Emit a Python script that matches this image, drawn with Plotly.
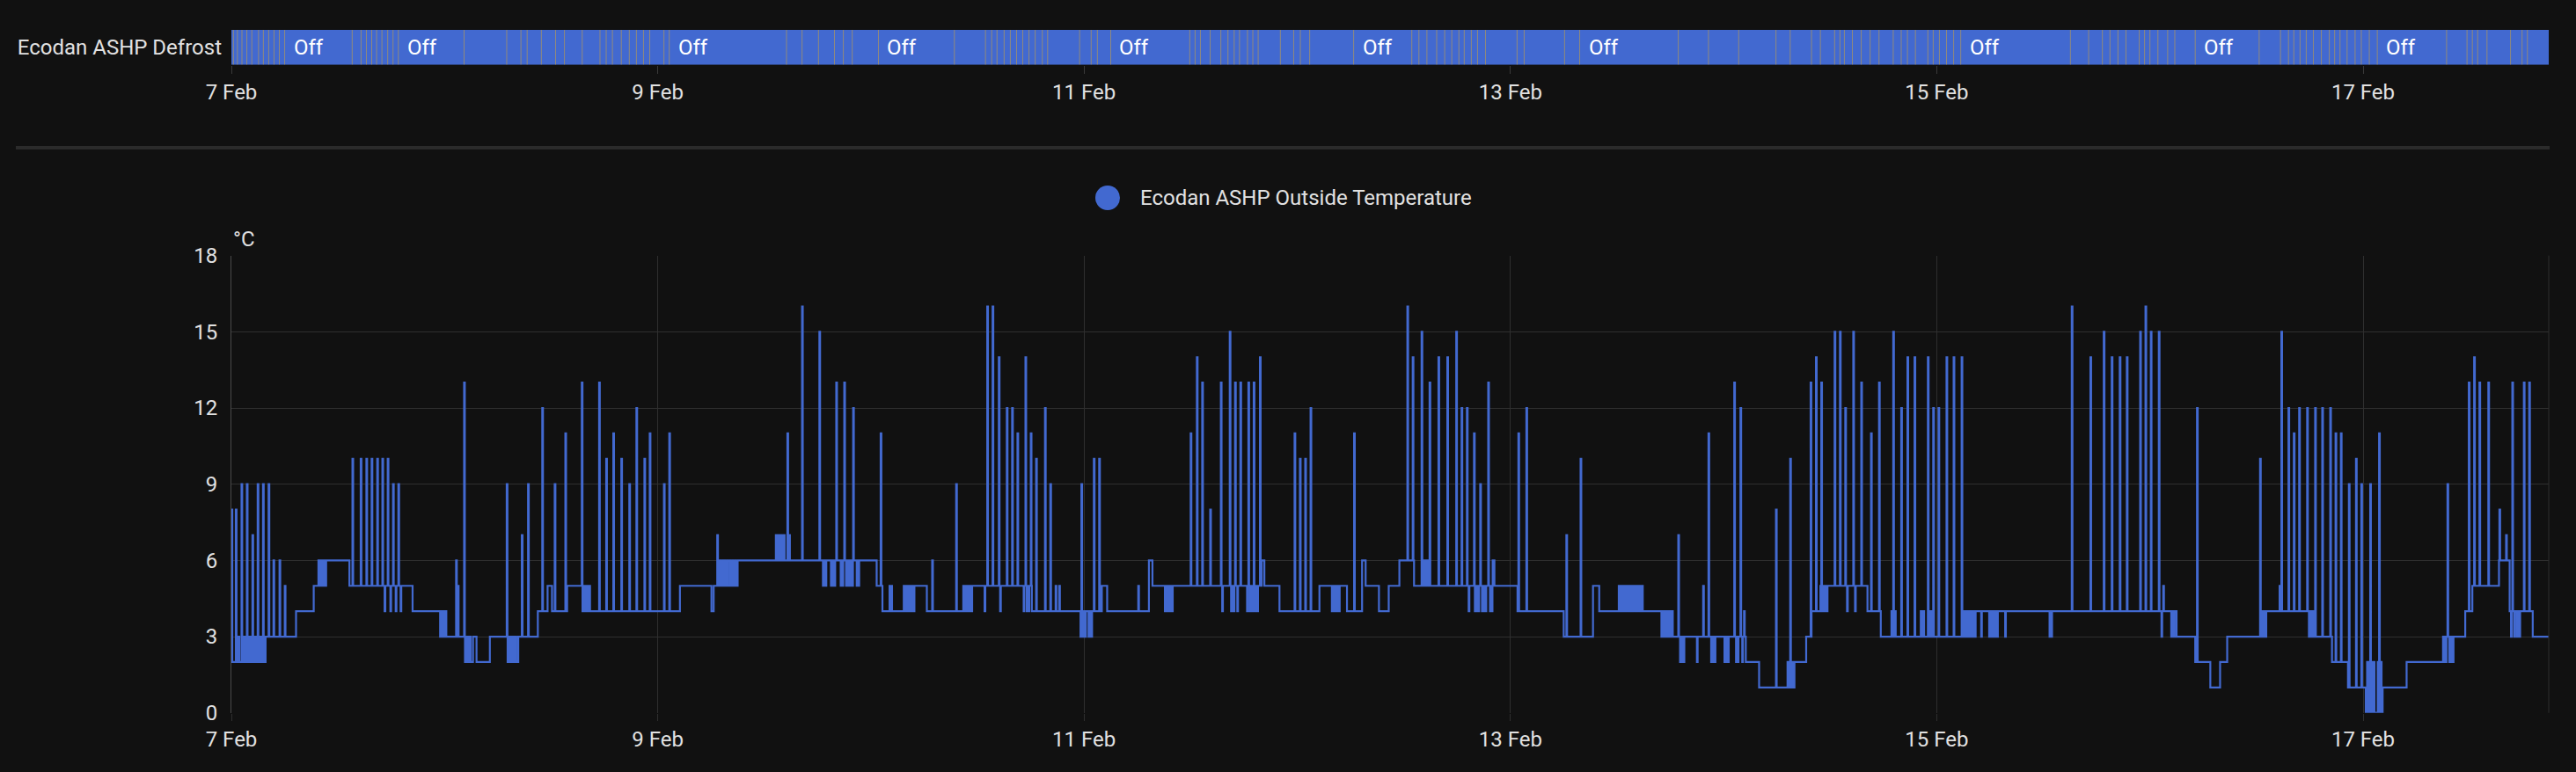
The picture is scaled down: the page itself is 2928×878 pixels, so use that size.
import plotly.graph_objects as go
from datetime import datetime, timedelta

# ---------------- data (hours since 7 Feb 00:00) ----------------
START = datetime(2025, 2, 7)
END_HOURS = 260.9

x_tick_labels = ["7 Feb", "9 Feb", "11 Feb", "13 Feb", "15 Feb", "17 Feb"]
y_ticks = [0, 3, 6, 9, 12, 15, 18]

# step baseline of outside temperature: change points and values
temp_base_hours = [0.0, 3.85, 7.28, 9.27, 10.67, 13.29, 20.4, 24.2, 26.3, 27.2, 27.6, 29.1, 31.1, 32.3,
                   34.5, 35.6, 36.1, 37.8, 39.5, 50.5, 54.05, 54.3, 57.0, 72.65, 73.3, 76.9, 78.3, 83.4,
                   90.2, 95.6, 96.2, 96.5, 96.9, 98.0, 98.6, 103.3, 103.7, 116.0, 116.3, 118.0, 122.5,
                   125.6, 127.3, 127.7, 129.2, 130.3, 131.5, 133.15, 134.1, 134.8, 142.0, 142.2, 144.8,
                   150.0, 153.3, 154.0, 156.2, 158.9, 161.0, 170.5, 172.0, 175.2, 177.3, 177.9, 179.7,
                   184.2, 185.7, 194.9, 219.0, 221.1, 222.8, 223.9, 224.7, 229.1, 233.9, 236.5, 238.3,
                   240.3, 242.2, 244.9, 249.0, 251.5, 252.3, 255.3, 256.5, 259.1]
temp_base_values = [2, 3, 4, 5, 6, 5, 4, 3, 2, 3, 2, 3, 2, 3,
                    4, 5, 4, 5, 4, 5, 4, 5, 6, 5, 4, 5, 4, 5,
                    4, 3, 4, 3, 4, 5, 4, 6, 5, 6, 5, 4, 5,
                    4, 6, 5, 4, 5, 6, 5, 6, 5, 6, 5, 4,
                    3, 5, 4, 5, 4, 3, 2, 1, 2, 3, 4, 5,
                    4, 3, 4, 3, 2, 1, 2, 3, 4, 3, 2, 1,
                    0, 1, 2, 3, 4, 5, 6, 4, 3]

# short readings (defrost spikes and quick toggles): time and value
temp_spike_hours = [
    0.02, 0.5, 1.14, 1.74, 2.37, 2.96, 3.56, 4.19, 4.74, 5.42, 6.01,
    0.8, 1.3, 1.45, 2.0, 2.15, 2.6, 2.75, 3.2, 3.4,
    9.8, 10.0, 10.2, 10.4, 10.55,
    13.63, 14.56, 15.2, 15.79, 16.42, 17.0, 17.6, 18.2, 18.8,
    17.25, 17.9, 18.5, 19.05,
    23.5, 23.7, 23.95,
    25.3, 25.5, 26.2,
    26.45, 26.65, 26.85,
    31.0, 31.3, 31.5, 31.8, 32.0,
    32.7, 33.4, 35.0, 36.4, 37.6, 39.45,
    39.7, 39.9, 40.1, 40.3,
    41.4, 42.2, 43.0, 43.9, 44.8, 45.6, 46.5, 47.1, 48.7, 49.3,
    54.7,
    55.0, 55.3, 55.5, 55.8, 56.1, 56.4, 56.7,
    61.3, 61.5, 61.7, 61.9, 62.2, 62.8,
    62.6, 64.25,
    66.2, 68.1, 69.0, 70.0,
    66.6, 66.9, 67.5, 67.7, 67.9, 68.6, 68.8, 69.2, 69.4, 69.6, 69.9, 70.4, 70.6,
    73.1,
    74.1, 74.3, 75.7, 75.9, 76.1, 76.3, 76.5, 76.7,
    78.9, 81.6,
    82.4, 82.6, 82.8, 83.0, 83.2,
    85.1, 85.7, 86.4, 87.3, 87.9, 88.5, 89.4, 90.0, 90.6, 91.6, 92.2,
    84.8, 86.55, 89.2, 89.55, 89.75, 90.12,
    92.8, 93.2,
    95.7, 95.8, 96.05, 96.7, 97.1, 97.7,
    102.1,
    105.1, 105.3, 105.5, 105.7, 105.9,
    108.0, 108.7, 109.3, 110.2, 111.4, 112.4, 113.0, 113.6, 114.5, 115.1, 115.8,
    111.55, 112.55, 112.85, 113.25, 114.35, 114.65, 114.85, 115.0, 115.3, 115.5,
    119.7, 120.3, 120.9, 121.5,
    123.9, 124.1, 124.3, 124.5, 124.7,
    126.4,
    132.4, 133.0, 134.0, 134.9, 135.9, 136.9, 137.9, 138.5, 139.1, 139.9, 140.6, 141.5,
    134.3, 134.5, 139.3,
    140.0, 140.2, 140.4, 140.8, 141.0, 141.2, 141.7, 141.9,
    144.9, 145.8,
    150.3, 151.9,
    156.4, 156.6, 156.8, 157.0, 157.3, 157.5, 157.7, 158.0, 158.2, 158.5, 158.7,
    161.2, 161.4, 161.6, 161.8, 162.0, 162.2,
    162.9,
    163.1, 163.3, 163.5, 165.0, 165.7, 166.3,
    166.6, 166.8, 167.0, 168.1, 168.3, 168.5,
    169.2, 169.4, 169.6, 169.9, 170.1, 170.3,
    173.9, 175.35, 175.5, 175.65, 175.9,
    177.8, 178.4, 179.0,
    178.9, 179.15, 179.3, 179.5,
    180.5, 181.1, 181.7, 182.6, 183.5, 184.6, 185.5,
    181.9, 182.8,
    186.9, 187.1, 187.3, 188.0, 188.7, 189.5, 190.2, 190.5, 191.0, 191.2, 191.4, 191.6, 192.2, 193.1, 193.9, 194.8,
    195.1, 195.3, 195.6, 195.8, 196.1, 196.3, 197.0, 197.9, 198.1, 198.3, 198.5, 198.8, 199.7,
    204.7, 204.9,
    207.2, 209.3, 210.8, 211.7, 212.6, 213.4, 214.9, 215.5, 216.1, 217.0, 217.5,
    217.3, 218.4, 218.7,
    221.3,
    228.4, 228.6, 228.9,
    230.6, 230.8, 231.6, 232.2, 232.8, 233.7, 234.6, 235.4, 236.3, 236.9, 237.5, 238.4, 239.2, 239.8, 240.8, 241.8,
    234.1, 234.3, 234.5,
    240.45, 240.6, 241.0, 241.2, 241.65, 242.0,
    249.1, 249.3, 249.5, 249.7, 249.9, 250.1,
    251.9, 252.5, 253.1, 254.1,
    255.35, 256.1,
    256.8, 256.65, 257.0, 257.3, 257.6, 258.1, 258.7,
]
temp_spike_values = [
    8, 8, 9, 9, 7, 9, 9, 9, 6, 6, 5,
    3, 3, 3, 3, 3, 3, 3, 3, 3,
    6, 6, 6, 6, 6,
    10, 10, 10, 10, 10, 10, 10, 9, 9,
    4, 4, 4, 4,
    3, 3, 3,
    6, 5, 13,
    3, 3, 3,
    9, 3, 3, 3, 3,
    7, 9, 12, 9, 11, 13,
    5, 5, 5, 5,
    13, 10, 11, 10, 9, 12, 10, 11, 9, 11,
    7,
    6, 6, 6, 6, 6, 6, 6,
    7, 7, 7, 7, 7, 7,
    11, 16,
    15, 13, 13, 12,
    5, 5, 5, 5, 5, 5, 5, 5, 5, 5, 5, 5, 5,
    11,
    5, 5, 5, 5, 5, 5, 5, 5,
    6, 9,
    5, 5, 5, 5, 5,
    16, 16, 14, 12, 12, 11, 14, 11, 10, 12, 9,
    4, 4, 4, 4, 4, 4,
    5, 5,
    9, 4, 4, 4, 10, 10,
    5,
    4, 4, 4, 4, 4,
    11, 14, 13, 8, 13, 15, 13, 13, 13, 13, 14,
    4, 4, 4, 4, 4, 4, 4, 4, 4, 4,
    11, 10, 10, 12,
    4, 4, 4, 4, 4,
    11,
    16, 14, 15, 13, 14, 14, 15, 12, 12, 11, 9, 13,
    5, 5, 4,
    4, 4, 4, 4, 4, 4, 4, 4,
    11, 12,
    7, 10,
    4, 4, 4, 4, 4, 4, 4, 4, 4, 4, 4,
    4, 4, 4, 4, 4, 4,
    7,
    2, 2, 2, 2, 5, 11,
    2, 2, 2, 2, 2, 2,
    13, 2, 2, 12, 2, 4,
    8, 1, 10, 1, 1,
    13, 14, 13,
    5, 5, 5, 5,
    15, 15, 12, 15, 13, 11, 13,
    4, 4,
    4, 15, 4, 12, 14, 14, 4, 4, 14, 4, 4, 12, 12, 14, 14, 14,
    3, 3, 3, 3, 3, 3, 3, 3, 3, 3, 3, 3, 3,
    3, 3,
    16, 14, 15, 14, 14, 14, 15, 16, 15, 15, 5,
    3, 3, 3,
    12,
    10, 4, 4,
    5, 15, 12, 11, 12, 12, 12, 12, 12, 11, 11, 9, 10, 9, 9, 11,
    4, 4, 4,
    2, 2, 2, 2, 2, 2,
    2, 2, 9, 2, 2, 2,
    13, 14, 13, 13,
    8, 7,
    13, 3, 3, 3, 3, 13, 13,
]

# moments the defrost switched on (brief "on" periods in the timeline)
defrost_on_hours = [
    0.23, 0.68, 1.19, 1.74, 2.3, 3.06, 3.6, 4.2, 4.8, 5.4, 6.0, 13.6, 14.6, 15.2, 15.8, 16.35, 16.95,
    17.6, 18.2, 18.8, 26.2, 31.0, 32.6, 33.3, 34.9, 36.5, 37.5, 39.5, 41.5, 42.2, 42.9, 43.9, 44.8,
    45.6, 46.4, 47.1, 48.7, 49.3, 62.5, 64.25, 66.1, 67.9, 68.9, 69.9, 72.85, 81.4, 84.9, 85.6, 86.2,
    87.0, 87.7, 88.4, 89.1, 89.8, 90.5, 91.3, 91.9, 95.5, 96.8, 97.5, 99.0, 107.9, 108.5, 109.1,
    110.2, 111.4, 112.2, 112.9, 113.5, 114.4, 115.0, 115.6, 118.1, 119.6, 120.35, 121.4, 126.35,
    132.9, 133.7, 134.6, 135.7, 136.6, 137.4, 138.2, 138.8, 139.6, 140.3, 141.2, 144.75, 145.55,
    150.1, 151.8, 162.9, 166.3, 169.7, 173.9, 175.5, 177.9, 178.9, 180.5, 181.1, 181.6, 182.5,
    183.5, 184.5, 185.5, 187.1, 188.0, 188.7, 189.6, 191.0, 191.6, 192.3, 193.1, 193.9, 194.7,
    207.05, 209.1, 210.65, 211.5, 212.4, 213.3, 214.8, 215.4, 216.0, 216.9, 218.0, 218.8, 221.1,
    228.3, 230.7, 231.6, 232.2, 232.9, 233.6, 234.4, 235.3, 236.2, 236.8, 237.4, 238.2, 239.1,
    239.8, 240.7, 241.6, 249.4, 251.7, 252.3, 252.9, 253.95, 256.6, 257.9, 258.5,
]

# ---------------- style ----------------
W, H = 2928, 878
BG = "#111111"
BLUE = "#4269d0"
ON_COLOR = "rgba(239,177,24,0.45)"
GRID = "#2f2f2f"
TEXT = "#e1e1e1"
FONT = "Roboto"
FS = 24
SPIKE_W = 0.08          # hours a short reading lasts
OFF_LABEL_MIN_H = 5.5   # segments shorter than this get no "Off" label


def t(h):
    return START + timedelta(hours=h)


def px_x(p):
    return p / W


def px_y(p):
    return (H - p) / H


# ---------------- build temperature step series ----------------
spikes = sorted(zip(temp_spike_hours, temp_spike_values))
base = list(zip(temp_base_hours, temp_base_values))
bps = set(temp_base_hours)
for sh, _ in spikes:
    bps.add(sh)
    bps.add(round(sh + SPIKE_W, 4))
bps.add(END_HOURS)
bps = sorted(b for b in bps if 0 <= b <= END_HOURS)


def value_at(h):
    v = base[0][1]
    for bh, bv in base:
        if bh <= h + 1e-9:
            v = bv
        else:
            break
    for sh, sv in spikes:
        if sh - 1e-9 <= h < sh + SPIKE_W - 1e-9:
            v = sv
    return v


temp_x = [t(h) for h in bps]
temp_y = [value_at(h) for h in bps]

fig = go.Figure()

# timeline bar (off state across the whole period)
fig.add_trace(go.Scatter(
    x=[t(0), t(END_HOURS), t(END_HOURS), t(0), t(0)], y=[0, 0, 1, 1, 0],
    xaxis="x2", yaxis="y2", mode="lines", fill="toself", fillcolor=BLUE,
    line=dict(width=0, color=BLUE), hoverinfo="skip", showlegend=False))

# brief "on" periods
dx, dy = [], []
for h in defrost_on_hours:
    dx += [t(h), t(h), None]
    dy += [0, 1, None]
fig.add_trace(go.Scatter(x=dx, y=dy, xaxis="x2", yaxis="y2", mode="lines",
                         line=dict(width=1, color=ON_COLOR), hoverinfo="skip", showlegend=False))

# temperature line
fig.add_trace(go.Scatter(x=temp_x, y=temp_y, mode="lines", name="Ecodan ASHP Outside Temperature",
                         line=dict(color=BLUE, width=2.2, shape="hv"), hoverinfo="skip", showlegend=False))

# "Off" labels in wide enough segments
annotations = []
bounds = [0.0] + sorted(defrost_on_hours) + [END_HOURS]
for a, b in zip(bounds[:-1], bounds[1:]):
    if b - a >= OFF_LABEL_MIN_H:
        annotations.append(dict(x=t(a), y=0.5, xref="x2", yref="y2", text="Off", showarrow=False,
                                xanchor="left", yanchor="middle", xshift=8,
                                font=dict(family=FONT, size=FS, color="#ffffff")))

# unit label
annotations.append(dict(x=px_x(263), y=px_y(272), xref="paper", yref="paper", text="°C",
                        showarrow=False, xanchor="left", yanchor="middle",
                        font=dict(family=FONT, size=FS, color=TEXT)))
# legend text
annotations.append(dict(x=px_x(1294), y=px_y(225), xref="paper", yref="paper",
                        text="Ecodan ASHP Outside Temperature", showarrow=False,
                        xanchor="left", yanchor="middle", font=dict(family=FONT, size=FS, color=TEXT)))

shapes = [
    # card divider
    dict(type="line", xref="paper", yref="paper", x0=px_x(18), x1=px_x(2898), y0=px_y(168), y1=px_y(168),
         line=dict(color="#2b2b2b", width=4)),
    # legend marker
    dict(type="circle", xref="paper", yref="paper", x0=px_x(1245), x1=px_x(1273), y0=px_y(239), y1=px_y(211),
         fillcolor=BLUE, line=dict(width=0)),
    # right border of plot
    dict(type="line", xref="x domain", yref="y domain", x0=1, x1=1, y0=0, y1=1,
         line=dict(color=GRID, width=1)),
]

xdom = [px_x(263), px_x(2897)]
tickvals = [t(48 * i) for i in range(len(x_tick_labels))]
common_x = dict(type="date", range=[t(0), t(END_HOURS)], tickmode="array", tickvals=tickvals,
                ticktext=x_tick_labels, zeroline=False, showline=False, automargin=False,
                tickfont=dict(family=FONT, size=FS, color=TEXT), fixedrange=True)

fig.update_layout(
    width=W, height=H, margin=dict(l=0, r=0, t=0, b=0, pad=0), autosize=False,
    paper_bgcolor=BG, plot_bgcolor=BG, showlegend=False, hovermode=False,
    font=dict(family=FONT, size=FS, color=TEXT),
    xaxis=dict(domain=xdom, anchor="y", showgrid=True, gridcolor=GRID, gridwidth=1,
               ticks="outside", ticklen=8, tickcolor=GRID, **common_x),
    yaxis=dict(domain=[px_y(810.7), px_y(290.7)], anchor="x", range=[0, 18], tickmode="array",
               tickvals=y_ticks, showgrid=True, gridcolor=GRID, zeroline=False, showline=True,
               linecolor="#4a4a4a", linewidth=1, ticks="", ticklabelstandoff=10, automargin=False,
               tickfont=dict(family=FONT, size=FS, color=TEXT), fixedrange=True),
    xaxis2=dict(domain=xdom, anchor="y2", showgrid=False, ticks="outside", ticklen=9,
                tickcolor="#3a3a3a", **common_x),
    yaxis2=dict(domain=[px_y(73.7), px_y(34)], anchor="x2", range=[0, 1], tickmode="array",
                tickvals=[0.5], ticktext=["Ecodan ASHP Defrost"], showgrid=False, zeroline=False,
                showline=False, ticks="", ticklabelstandoff=10, automargin=False,
                tickfont=dict(family=FONT, size=FS, color=TEXT), fixedrange=True),
    annotations=annotations, shapes=shapes,
)

fig.write_html(
    "out.html",
    config={"displayModeBar": False},
    post_script="document.body.style.margin='0px';document.body.style.background='#111111';"
                "document.body.style.overflow='hidden';",
)
